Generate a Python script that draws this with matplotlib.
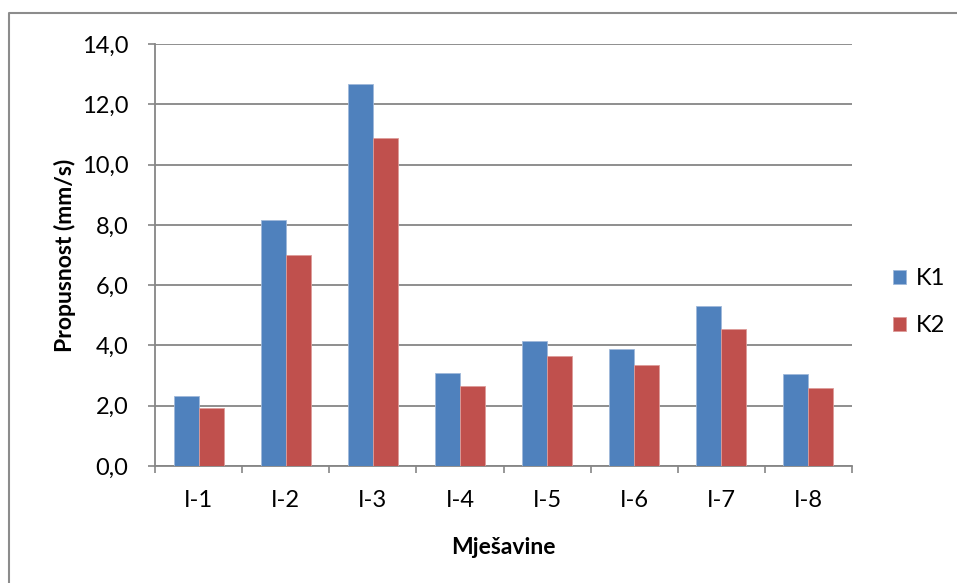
import numpy as np
import matplotlib
matplotlib.use("Agg")
import matplotlib.pyplot as plt
from matplotlib.lines import Line2D
from matplotlib.ticker import FuncFormatter, FixedLocator

plt.rcParams['font.family'] = ['Lato', 'DejaVu Sans']

# data
categories = ["I-1", "I-2", "I-3", "I-4", "I-5", "I-6", "I-7", "I-8"]
k1 = [2.32, 8.16, 12.68, 3.10, 4.15, 3.87, 5.31, 3.05]
k2 = [1.92, 6.99, 10.88, 2.66, 3.65, 3.34, 4.56, 2.60]
series_names = ["K1", "K2"]

blue = "#4F81BD"
red = "#C0504D"
grid_grey = "#868686"

fig = plt.figure(figsize=(9.57, 5.83), dpi=100)
ax = fig.add_axes([155 / 957, 117 / 583, 697 / 957, 422 / 583])

x = np.arange(len(categories))
w = 0.287
ax.bar(x - w / 2, k1, width=w, color=blue, edgecolor="#9fb9da", linewidth=0.6,
       label=series_names[0], zorder=3)
ax.bar(x + w / 2, k2, width=w, color=red, edgecolor="#dd9c9a", linewidth=0.6,
       label=series_names[1], zorder=3)

ax.set_xlim(-0.5, len(categories) - 0.5)
ax.set_ylim(0, 14)
ax.set_yticks(np.arange(0, 15, 2))
ax.yaxis.set_major_formatter(FuncFormatter(lambda v, p: f"{v:.1f}".replace(".", ",")))
ax.grid(axis="y", color=grid_grey, linewidth=1.3, zorder=0)

# category labels in the middle, tick marks on the boundaries
ax.set_xticks(x)
ax.set_xticklabels(categories)
ax.xaxis.set_minor_locator(FixedLocator(np.arange(-0.5, len(categories), 1)))
ax.tick_params(axis="x", which="major", length=0, pad=17, labelsize=17)
ax.tick_params(axis="x", which="minor", length=5, width=1.2, color=grid_grey)
ax.tick_params(axis="y", length=5, width=1.2, color=grid_grey, pad=14, labelsize=17)

for side in ["top", "right"]:
    ax.spines[side].set_visible(False)
for side in ["left", "bottom"]:
    ax.spines[side].set_color(grid_grey)
    ax.spines[side].set_linewidth(1.3)

ax.set_ylabel("Propusnost (mm/s)", fontsize=16.5, fontweight="bold", labelpad=4)
ax.set_xlabel("Mješavine", fontsize=16.5, fontweight="bold", labelpad=19)

ax.legend(loc="center left", bbox_to_anchor=(893 / 957, 1 - 302 / 583),
          bbox_transform=fig.transFigure, frameon=False, fontsize=17,
          borderpad=0, borderaxespad=0,
          handlelength=0.55, handleheight=0.55, handletextpad=0.4,
          labelspacing=1.1)

# outer chart border
fig.add_artist(Line2D([9 / 957, 9 / 957, 1.0], [0.0, 1 - 13 / 583, 1 - 13 / 583],
                      transform=fig.transFigure, color="#8c8c8c", linewidth=1.5))

fig.savefig("out.png", dpi=100)
